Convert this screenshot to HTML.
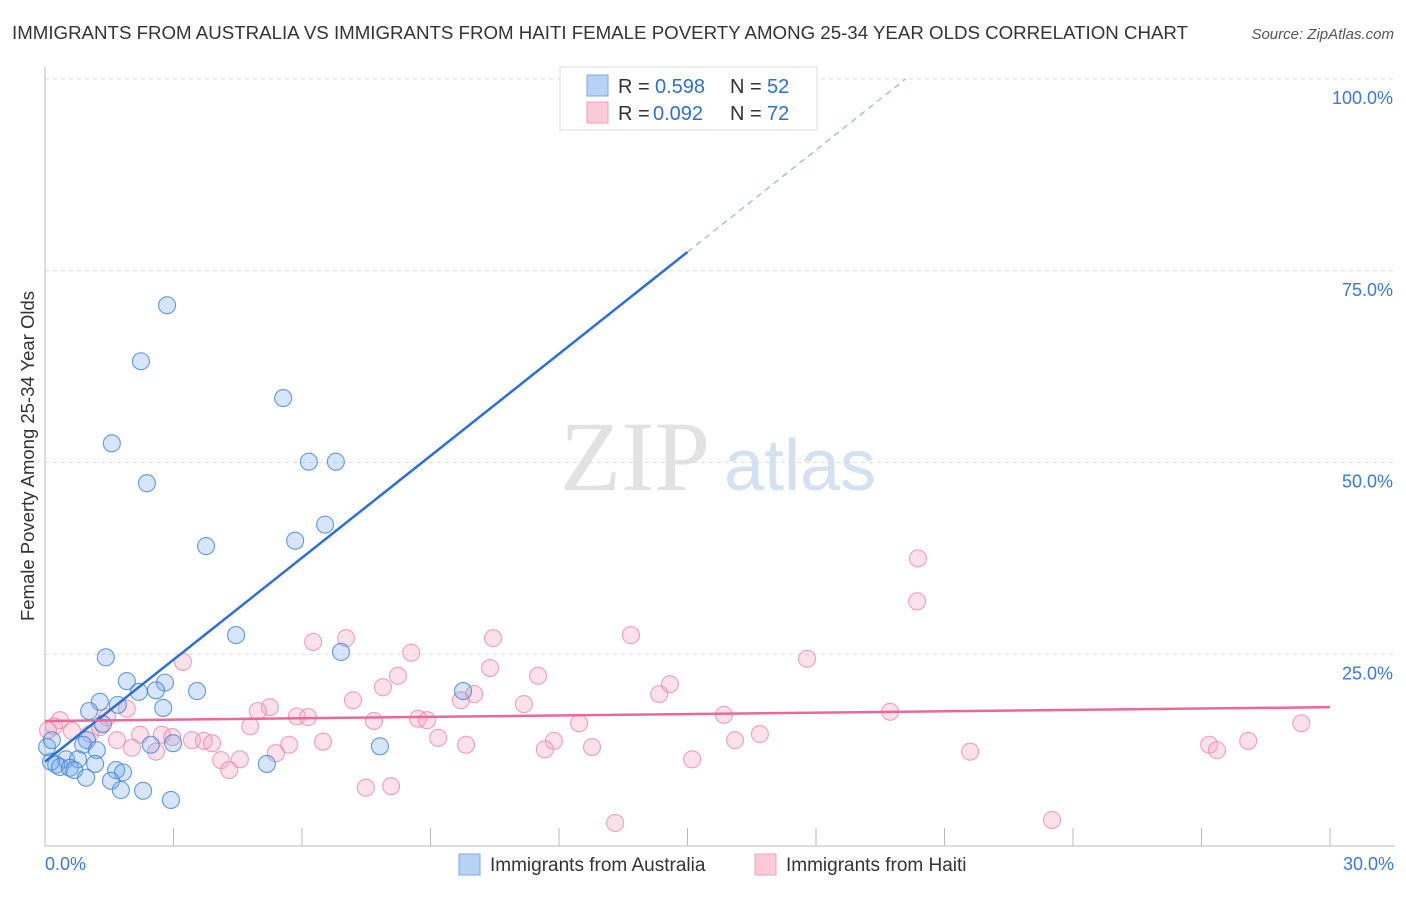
<!DOCTYPE html>
<html><head><meta charset="utf-8">
<style>
body{margin:0;background:#fff;font-family:"Liberation Sans",sans-serif;}
</style></head>
<body>
<svg id="chart" width="1406" height="892" xmlns="http://www.w3.org/2000/svg" style="font-family:'Liberation Sans',sans-serif">
<text x="12" y="39" font-size="18" fill="#333" textLength="1176" lengthAdjust="spacingAndGlyphs">IMMIGRANTS FROM AUSTRALIA VS IMMIGRANTS FROM HAITI FEMALE POVERTY AMONG 25-34 YEAR OLDS CORRELATION CHART</text>
<text x="1394" y="39" font-size="15" fill="#555" font-style="italic" text-anchor="end">Source: ZipAtlas.com</text>
<text x="34" y="456" font-size="18.5" fill="#333" text-anchor="middle" transform="rotate(-90 34 456)">Female Poverty Among 25-34 Year Olds</text>
<g>
<text x="635" y="490" font-size="100" fill="#e2e2e2" font-family="Liberation Serif" text-anchor="middle">ZIP</text>
<text x="800" y="490" font-size="72" fill="#d3e1f3" text-anchor="middle">atlas</text>
</g>
<g id="grid"></g><g id="axes"></g><g id="marks"></g>
<g>
<rect x="560" y="67" width="257" height="63" fill="#fff" stroke="#ddd"/>
<rect x="587" y="75" width="21" height="21" fill="#b8d2f5" stroke="#7aa9e8"/>
<rect x="587" y="102" width="21" height="21" fill="#fbcad8" stroke="#f0a0b8"/>
<text x="618" y="93" font-size="20" fill="#333">R =</text>
<text x="655" y="93" font-size="20" fill="#2f6fd1">0.598</text>
<text x="730" y="93" font-size="20" fill="#333">N =</text>
<text x="767" y="93" font-size="20" fill="#2f6fd1">52</text>
<text x="618" y="120" font-size="20" fill="#333">R =</text>
<text x="653" y="120" font-size="20" fill="#2f6fd1">0.092</text>
<text x="730" y="120" font-size="20" fill="#333">N =</text>
<text x="767" y="120" font-size="20" fill="#2f6fd1">72</text>
</g>
<g>
<rect x="459" y="854" width="21" height="21" fill="#b8d2f5" stroke="#7aa9e8"/>
<text x="490" y="871" font-size="19" fill="#333">Immigrants from Australia</text>
<rect x="755" y="854" width="21" height="21" fill="#fbcad8" stroke="#f0a0b8"/>
<text x="786" y="871" font-size="19" fill="#333">Immigrants from Haiti</text>
</g>
</svg>
<script>
const yTicks=[25,50,75,100];
const yTickLabels=["25.0%","50.0%","75.0%","100.0%"];
const xTicks=[0,3,6,9,12,15,18,21,24,27,30];
const ausX=[12.33,2.85,2.24,5.56,1.56,2.38,6.16,6.79,6.54,5.84,3.76,4.46,6.91,1.42,2.80,1.91,3.55,2.59,2.19,1.28,1.70,2.76,1.03,1.35,0.98,0.89,1.21,2.47,2.99,7.82,9.76,0.49,0.77,0.26,0.14,0.35,0.58,0.68,1.17,1.66,1.82,1.54,0.96,1.77,2.29,2.94,5.18,0.05,0.16];
const ausY=[100.0,70.5,63.2,58.4,52.5,47.3,50.1,50.1,41.9,39.8,39.1,27.5,25.3,24.6,21.3,21.5,20.2,20.3,20.1,18.8,18.4,18.0,17.6,15.9,13.8,13.2,12.5,13.2,13.4,13.0,20.2,11.3,11.3,10.6,11.0,10.3,10.2,9.9,10.7,9.9,9.6,8.5,8.9,7.3,7.2,6.0,10.7,12.9,13.8];
const haiX=[20.38,20.36,13.68,10.46,7.03,6.26,8.55,17.79,3.22,10.39,11.51,8.24,7.89,14.59,10.02,14.34,9.71,7.19,5.25,11.18,4.97,19.73,15.85,5.88,6.14,8.71,8.92,7.68,12.47,29.33,4.79,1.91,1.45,0.35,0.21,0.63,1.05,1.68,2.22,2.73,2.97,3.43,3.71,3.90,5.70,6.49,9.18,9.83,11.88,11.67,12.77,16.69,16.11,28.09,27.18,27.36,21.60,2.59,4.11,4.55,5.39,4.30,15.11,7.49,8.08,13.31,23.51,2.03,1.28,0.07];
const haiY=[37.5,31.9,27.5,27.1,27.1,26.6,25.2,24.4,24.0,23.2,22.2,22.2,20.7,21.1,19.8,19.8,19.0,19.0,18.1,18.5,17.6,17.5,17.1,16.9,16.8,16.6,16.4,16.3,16.0,16.0,15.6,17.9,16.8,16.4,15.6,15.0,14.6,13.8,14.5,14.5,14.2,13.8,13.7,13.4,13.2,13.6,14.1,13.2,13.7,12.6,12.9,14.6,13.8,13.7,13.2,12.5,12.3,12.3,11.2,11.3,12.1,9.9,11.3,7.6,7.8,3.0,3.4,12.8,15.5,15.1];
const ausTrend=[11.0,4.43];   // intercept, slope
const haiTrend=[16.3,0.06];
const NS="http://www.w3.org/2000/svg";
const X0=45,X1=1330,Y0=846,Y100=79;
const xs=v=>X0+(X1-X0)*v/30;
const ys=v=>Y0-(Y0-Y100)*v/100;
function mk(tag,attrs,parent){const e=document.createElementNS(NS,tag);for(const k in attrs)e.setAttribute(k,attrs[k]);parent.appendChild(e);return e;}
const grid=document.getElementById('grid'),axes=document.getElementById('axes'),marks=document.getElementById('marks');
yTicks.forEach((t,i)=>{
 const l=mk('line',{x1:X0,x2:1395,y1:ys(t),y2:ys(t),stroke:'#ddd','stroke-dasharray':'4,4'},grid);
 
 
 const tx=mk('text',{x:1393,y:ys(t)+25,'font-size':18,fill:'#3b78d8','text-anchor':'end'},axes);
 tx.textContent=yTickLabels[i];
 
 
});
const ax=mk('line',{x1:X0,x2:X0,y1:67,y2:Y0,stroke:'#bbb'},axes);


const bx=mk('line',{x1:X0,x2:1395,y1:Y0,y2:Y0,stroke:'#bbb'},axes);


xTicks.forEach(t=>{
 const l=mk('line',{x1:xs(t),x2:xs(t),y1:828,y2:Y0,stroke:'#bbb'},axes);
 
 
});
const xl0=mk('text',{x:45,y:870,'font-size':18,fill:'#3b78d8'},axes);xl0.textContent='0.0%';


const xl1=mk('text',{x:1394,y:870,'font-size':18,fill:'#3b78d8','text-anchor':'end'},axes);xl1.textContent='30.0%';


function dots(X,Y,fill,stroke,name){X.forEach((v,i)=>{
 const c=mk('circle',{cx:xs(v),cy:ys(Y[i]),r:8.5,fill:fill,stroke:stroke,'stroke-width':1.1},marks);
 
 
});}
dots(haiX,haiY,'rgba(246,170,196,0.35)','rgba(236,130,165,0.75)','haiti-point');
dots(ausX,ausY,'rgba(120,170,240,0.3)','rgba(60,130,220,0.8)','australia-point');
const at=v=>ausTrend[0]+ausTrend[1]*v;
const l1=mk('line',{x1:xs(0),y1:ys(at(0)),x2:xs(15),y2:ys(at(15)),stroke:'#2b6fd6','stroke-width':2.5},marks);


const xe=(100-ausTrend[0])/ausTrend[1];
const l2=mk('line',{x1:xs(15),y1:ys(at(15)),x2:xs(xe),y2:ys(100),stroke:'#8fb4e6','stroke-width':1.2,'stroke-dasharray':'6,5'},marks);


const ht=v=>haiTrend[0]+haiTrend[1]*v;
const l3=mk('line',{x1:xs(0),y1:ys(ht(0)),x2:xs(30),y2:ys(ht(30)),stroke:'#e8699a','stroke-width':2.5},marks);


</script>
</body></html>
